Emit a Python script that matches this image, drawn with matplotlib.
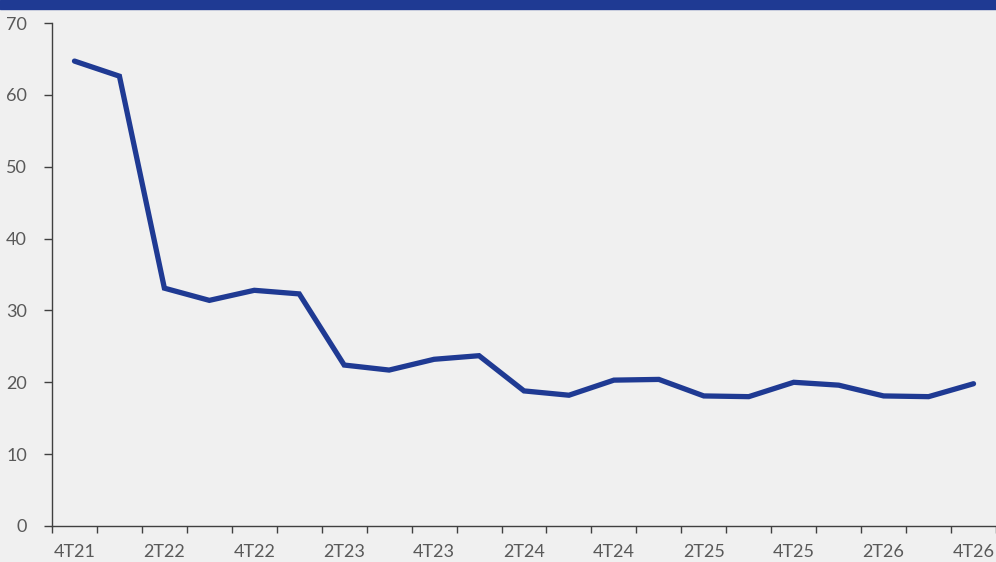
import matplotlib.pyplot as plt
import matplotlib.patches as mpatches
import numpy as np

# Datos
TRIMESTRES = ["4T21", "1T22", "2T22", "3T22", "4T22", "1T23", "2T23", "3T23",
              "4T23", "1T24", "2T24", "3T24", "4T24", "1T25", "2T25", "3T25",
              "4T25", "1T26", "2T26", "3T26", "4T26"]
VALORES = [64.7, 62.6, 33.1, 31.4, 32.8, 32.3, 22.4, 21.7, 23.2, 23.7, 18.8,
           18.2, 20.3, 20.4, 18.1, 18.0, 20.0, 19.6, 18.1, 18.0, 19.8]
Y_TICKS = [0, 10, 20, 30, 40, 50, 60, 70]

AZUL = "#1f3a93"
FONDO = "#f0f0f0"
GRIS = "#595959"

plt.rcParams['font.family'] = ['Lato', 'DejaVu Sans']

figura = plt.figure(figsize=(9.96, 5.62), dpi=100, facecolor=FONDO)
eje = figura.add_axes([52/996, 36/562, 1 - 52/996, 503/562])
eje.set_facecolor(FONDO)

# banda superior
figura.patches.append(mpatches.Rectangle((0, 1 - 9/562), 1, 9/562,
                                         transform=figura.transFigure,
                                         color=AZUL, zorder=0))

x = np.arange(len(TRIMESTRES))
eje.plot(x, VALORES, color=AZUL, linewidth=3.8, solid_capstyle='round',
         solid_joinstyle='miter')

eje.set_xlim(-0.5, len(TRIMESTRES) - 0.5)
eje.set_ylim(0, 70)
eje.set_yticks(Y_TICKS)
eje.set_yticklabels([str(v) for v in Y_TICKS])

# marcas entre categorías, etiquetas en el centro
eje.set_xticks(np.arange(-0.5, len(TRIMESTRES)))
eje.set_xticklabels([])
eje.set_xticks(x[::2], minor=True)
eje.set_xticklabels(TRIMESTRES[::2], minor=True)
eje.tick_params(axis='x', which='major', length=5, width=1, color="#404040")
eje.tick_params(axis='x', which='minor', length=0, pad=13, labelsize=13,
                labelcolor=GRIS)
eje.tick_params(axis='y', length=6, width=1, color="#404040", pad=12,
                labelsize=13, labelcolor=GRIS)

for lado in ["top", "right"]:
    eje.spines[lado].set_visible(False)
for lado in ["left", "bottom"]:
    eje.spines[lado].set_color("#404040")
    eje.spines[lado].set_linewidth(1)

figura.savefig("out.png", dpi=100, facecolor=FONDO)
plt.close(figura)
